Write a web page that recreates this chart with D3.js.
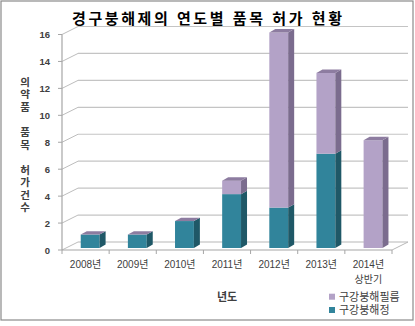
<!DOCTYPE html>
<html><head><meta charset="utf-8">
<script src="https://cdn.jsdelivr.net/npm/d3@7"></script>
<style>body{margin:0;background:#fff}svg{display:block}</style>
</head><body><svg id="c" width="415" height="326"></svg>
<script>
const categories = ["2008년","2009년","2010년","2011년","2012년","2013년","2014년\n상반기"];
const seriesNames = ["구강붕해정","구강붕해필름"];
const tabletValues = [1,1,2,4,3,7,0];
const filmValues = [0,0,0,1,13,6,8];
const yTicks = [0,2,4,6,8,10,12,14,16];
const titleText = "경구붕해제의 연도별 품목 허가 현황";
const yTitleLines = ["의","약","품","","품","목","","허","가","건","수"];
const xTitle = "년도";

const svg = d3.select("#c");
const KR = "'Liberation Sans','Noto Sans CJK KR',sans-serif";

svg.append("rect").attr("x",1).attr("y",1).attr("width",412).attr("height",319)
  .attr("fill","#fff").attr("stroke","#8a8a8a").attr("stroke-width",1.2);

const x0 = 62, x1 = 392;
const wall = {dx:16, dy:-8};
const barOff = {dx:4.6, dy:-2};
const barDepth = {dx:6, dy:-3.4};

const x = d3.scaleBand().domain(categories).range([x0,x1]).paddingInner(0.6).paddingOuter(0.3);
const y = d3.scaleLinear().domain([0,16]).range([250,34.5]);

const grid = svg.append("g");
yTicks.forEach(v=>{
  grid.append("line").attr("x1",x0+wall.dx).attr("x2",x1+wall.dx)
    .attr("y1",y(v)+wall.dy).attr("y2",y(v)+wall.dy)
    .attr("stroke",v===0?"#b8b8b8":"#c4c4c4").attr("stroke-width",1.2);
  grid.append("line").attr("x1",x0).attr("y1",y(v)).attr("x2",x0+wall.dx).attr("y2",y(v)+wall.dy)
    .attr("stroke","#bdbdbd").attr("stroke-width",1);
});
grid.append("line").attr("x1",x0).attr("x2",x1).attr("y1",y(0)).attr("y2",y(0))
  .attr("stroke","#a6a6a6").attr("stroke-width",1.2);
grid.append("line").attr("x1",x1).attr("y1",y(0)).attr("x2",x1+wall.dx).attr("y2",y(0)+wall.dy)
  .attr("stroke","#b8b8b8").attr("stroke-width",1);
grid.append("line").attr("x1",x0).attr("x2",x0).attr("y1",y(16)).attr("y2",y(0))
  .attr("stroke","#a6a6a6").attr("stroke-width",1.2);
yTicks.forEach(v=>{
  grid.append("line").attr("x1",x0-4).attr("x2",x0).attr("y1",y(v)).attr("y2",y(v))
    .attr("stroke","#a6a6a6");
  svg.append("text").attr("x",50).attr("y",y(v)).attr("text-anchor","end")
    .attr("dominant-baseline","central").attr("font-family","'Liberation Sans',Arial,sans-serif")
    .attr("font-weight","bold").attr("font-size",9.5).attr("fill","#404040").text(v);
});
for(let i=0;i<=categories.length;i++){
  const xx = x0 + i*(x1-x0)/categories.length;
  grid.append("line").attr("x1",xx).attr("x2",xx).attr("y1",y(0)).attr("y2",y(0)+4)
    .attr("stroke","#a6a6a6");
}

const colors = {
  tablet:{front:"#31849b", side:"#1f5867", top:"#256f82"},
  film:{front:"#b3a2c7", side:"#7b6c8e", top:"#8d7ca0"}
};
const bars = svg.append("g");
function drawSeg(c, v0, v1, col, withTop){
  const xl = x(c)+barOff.dx, xr = xl + x.bandwidth();
  const yb = y(v0)+barOff.dy, yt = y(v1)+barOff.dy;
  const g = bars.append("g");
  if(v1>v0){
    g.append("rect").attr("x",xl).attr("y",yt).attr("width",xr-xl).attr("height",yb-yt).attr("fill",col.front);
    g.append("path").attr("d",`M${xr},${yb}L${xr+barDepth.dx},${yb+barDepth.dy}L${xr+barDepth.dx},${yt+barDepth.dy}L${xr},${yt}Z`).attr("fill",col.side);
  }
  if(withTop){
    g.append("path").attr("d",`M${xl},${yt}L${xl+barDepth.dx},${yt+barDepth.dy}L${xr+barDepth.dx},${yt+barDepth.dy}L${xr},${yt}Z`).attr("fill",col.top);
  }
}
categories.forEach((c,i)=>{
  const t = tabletValues[i], f = filmValues[i];
  drawSeg(c, 0, t, colors.tablet, false);
  drawSeg(c, t, t+f, colors.film, true);
});

categories.forEach(c=>{
  const lines = c.split("\n");
  lines.forEach((l,j)=>{
    svg.append("text").attr("text-anchor","middle").attr("font-family",KR)
      .attr("font-size",10).attr("fill","#404040")
      .attr("x",x(c)+x.bandwidth()/2).attr("y",264+j*15)
      .attr("dominant-baseline","central").text(l);
  });
});

svg.append("text").attr("x",207).attr("y",18.5).attr("text-anchor","middle")
  .attr("dominant-baseline","central").attr("font-family",KR).attr("font-weight","bold")
  .attr("font-size",15).attr("fill","#000").attr("textLength",270).attr("lengthAdjust","spacing")
  .text(titleText);

yTitleLines.forEach((ch,i)=>{
  if(!ch) return;
  svg.append("text").attr("x",25).attr("y",81.7+i*12.56).attr("text-anchor","middle")
    .attr("dominant-baseline","central").attr("font-family",KR).attr("font-weight","bold")
    .attr("font-size",10.5).attr("fill","#404040").text(ch);
});

svg.append("text").attr("x",227).attr("y",296.7).attr("text-anchor","middle")
  .attr("dominant-baseline","central").attr("font-family",KR).attr("font-weight","bold")
  .attr("font-size",11).attr("fill","#404040").text(xTitle);

const legendItems = [{name:seriesNames[1], color:colors.film.front},{name:seriesNames[0], color:colors.tablet.front}];
legendItems.forEach((d,i)=>{
  const cy = 296.7 + i*13.3;
  svg.append("rect").attr("x",329).attr("y",cy-3).attr("width",6).attr("height",6).attr("fill",d.color);
  svg.append("text").attr("x",339).attr("y",cy).attr("dominant-baseline","central")
    .attr("font-family",KR).attr("font-size",11).attr("fill","#404040").text(d.name);
});
</script></body></html>
